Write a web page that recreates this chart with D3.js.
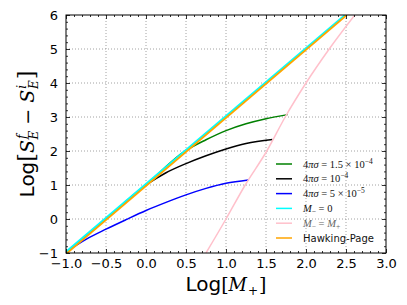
<!DOCTYPE html>
<html>
<head>
<meta charset="utf-8">
<script src="https://cdn.jsdelivr.net/npm/d3@7"></script>
<style>
  body { margin: 0; background: #fff; }
  svg { display: block; }
  .tick text { font-family: "DejaVu Sans", sans-serif; font-size: 13px; fill: #000; }
</style>
</head>
<body>
<div id="chart"></div>
<script>
// values (x = Log[M+], y = Log[S_E^f - S_E^i])
let sigma15X = [-1.0, -0.5, 0.0, 0.49, 0.75, 1.0, 1.25, 1.5, 1.77];
let sigma15Y = [-1.0, 0.0, 1.0, 2.0, 2.33, 2.6, 2.8, 2.95, 3.07];

let sigma10X = [-1.0, -0.5, 0.0, 0.25, 0.5, 0.75, 1.0, 1.25, 1.58];
let sigma10Y = [-1.0, 0.0, 1.0, 1.36, 1.63, 1.86, 2.06, 2.22, 2.34];

let sigma5X = [-1.0, -0.75, -0.5, -0.25, 0.0, 0.25, 0.5, 0.75, 1.0, 1.28];
let sigma5Y = [-0.97, -0.6, -0.3, -0.02, 0.25, 0.49, 0.71, 0.9, 1.05, 1.15];

let mZeroX = [-1.0, 2.49];
let mZeroY = [-0.97, 6.0];

let mEqualX = [0.75, 1.0, 1.24, 1.51, 1.74, 2.0, 2.29, 2.61];
let mEqualY = [-1.0, 0.0, 1.0, 2.0, 3.0, 4.0, 5.0, 6.0];

let hawkingX = [-1.0, 2.51];
let hawkingY = [-1.03, 6.0];

let xTicks = [-1.0, -0.5, 0.0, 0.5, 1.0, 1.5, 2.0, 2.5, 3.0];
let yTicks = [-1, 0, 1, 2, 3, 4, 5, 6];

let svgWidth = 407;
let svgHeight = 305;
let margin = { top: 15, right: 21, bottom: 52, left: 66 };
let chartWidth = svgWidth - margin.left - margin.right;
let chartHeight = svgHeight - margin.top - margin.bottom;

let svg = d3.select("#chart").append("svg")
  .attr("width", svgWidth)
  .attr("height", svgHeight);

let chartGroup = svg.append("g")
  .attr("transform", `translate(${margin.left}, ${margin.top})`);

let x = d3.scaleLinear().domain([-1, 3]).range([0, chartWidth]);
let y = d3.scaleLinear().domain([-1, 6]).range([chartHeight, 0]);

// grid
chartGroup.append("g").selectAll("line").data(xTicks.slice(1, -1)).enter().append("line")
  .attr("x1", d => x(d)).attr("x2", d => x(d))
  .attr("y1", 0).attr("y2", chartHeight)
  .attr("stroke", "#8a8a8a").attr("stroke-width", 0.8).attr("stroke-dasharray", "1,2");
chartGroup.append("g").selectAll("line").data(yTicks.slice(1, -1)).enter().append("line")
  .attr("y1", d => y(d)).attr("y2", d => y(d))
  .attr("x1", 0).attr("x2", chartWidth)
  .attr("stroke", "#8a8a8a").attr("stroke-width", 0.8).attr("stroke-dasharray", "1,2");

// curves
chartGroup.append("clipPath").attr("id", "clip")
  .append("rect").attr("width", chartWidth).attr("height", chartHeight);

let series = [
  { xs: sigma15X, ys: sigma15Y, color: "#008000", w: 1.5 },
  { xs: sigma10X, ys: sigma10Y, color: "#000000", w: 1.5 },
  { xs: sigma5X, ys: sigma5Y, color: "#0000ff", w: 1.5 },
  { xs: mZeroX, ys: mZeroY, color: "#00ffff", w: 2.2 },
  { xs: mEqualX, ys: mEqualY, color: "#ffc0cb", w: 1.5 },
  { xs: hawkingX, ys: hawkingY, color: "#ffa500", w: 1.8 }
];

let line = d3.line()
  .x(d => x(d[0]))
  .y(d => y(d[1]))
  .curve(d3.curveMonotoneX);

let lineGroup = chartGroup.append("g").attr("clip-path", "url(#clip)");
series.forEach(function(s) {
  lineGroup.append("path")
    .datum(s.xs.map((v, i) => [v, s.ys[i]]))
    .attr("d", line)
    .attr("fill", "none")
    .attr("stroke", s.color)
    .attr("stroke-width", s.w);
});

// axes, ticks pointing inward
let xMinor = d3.range(-10, 31).map(d => d / 10).filter(d => Math.abs(d * 2 - Math.round(d * 2)) > 1e-6);
let yMinor = d3.range(-5, 31).map(d => d / 5).filter(d => Math.abs(d - Math.round(d)) > 1e-6);

function styleAxis(g) {
  g.select(".domain").remove();
  g.selectAll(".tick line").attr("stroke", "#000").attr("stroke-width", 0.8);
}

chartGroup.append("g")
  .attr("transform", `translate(0, ${chartHeight})`)
  .call(d3.axisBottom(x).tickValues(xTicks).tickFormat(d3.format(".1f")).tickSize(-4).tickPadding(6))
  .call(styleAxis);
chartGroup.append("g")
  .attr("transform", `translate(0, ${chartHeight})`)
  .call(d3.axisBottom(x).tickValues(xMinor).tickFormat("").tickSize(-2))
  .call(styleAxis);
chartGroup.append("g")
  .call(d3.axisTop(x).tickValues(xTicks).tickFormat("").tickSize(-4))
  .call(styleAxis);
chartGroup.append("g")
  .call(d3.axisTop(x).tickValues(xMinor).tickFormat("").tickSize(-2))
  .call(styleAxis);

chartGroup.append("g")
  .call(d3.axisLeft(y).tickValues(yTicks).tickFormat(d3.format("d")).tickSize(-4).tickPadding(8))
  .call(styleAxis);
chartGroup.append("g")
  .call(d3.axisLeft(y).tickValues(yMinor).tickFormat("").tickSize(-2))
  .call(styleAxis);
chartGroup.append("g")
  .attr("transform", `translate(${chartWidth}, 0)`)
  .call(d3.axisRight(y).tickValues(yTicks).tickFormat("").tickSize(-4))
  .call(styleAxis);
chartGroup.append("g")
  .attr("transform", `translate(${chartWidth}, 0)`)
  .call(d3.axisRight(y).tickValues(yMinor).tickFormat("").tickSize(-2))
  .call(styleAxis);

chartGroup.append("rect")
  .attr("width", chartWidth).attr("height", chartHeight)
  .attr("fill", "none").attr("stroke", "#000").attr("stroke-width", 1);

// math text helper: parts = [text, style, dx, dy, size]
let serif = "'DejaVu Serif', 'Liberation Serif', serif";
let legendSerif = "'Liberation Serif', 'DejaVu Serif', serif";
function mathText(sel, parts, family) {
  let fam = family || serif;
  parts.forEach(function(p) {
    let t = sel.append("tspan").text(p[0]);
    if (p[1] === "i") t.attr("font-family", fam).attr("font-style", "italic");
    if (p[1] === "r") t.attr("font-family", fam);
    if (p[1] === "s") t.attr("font-family", "'DejaVu Sans', sans-serif");
    if (p[2]) t.attr("dx", p[2]);
    if (p[3]) t.attr("dy", p[3]);
    if (p[4]) t.attr("font-size", p[4]);
  });
}

// x label
let xLabel = svg.append("text")
  .attr("x", margin.left + chartWidth / 2)
  .attr("y", 291)
  .attr("text-anchor", "middle")
  .attr("font-size", 20)
  .attr("font-family", "'DejaVu Sans', sans-serif");
mathText(xLabel, [
  ["Log", "s"], ["[", "r", 0, 0, 19], ["M", "i", 0, 0, 18], ["+", "r", 1, 4, 12], ["]", "r", 1, -4, 19]
]);

// y label
let yLabel = svg.append("text")
  .attr("transform", `translate(34, ${margin.top + chartHeight / 2}) rotate(-90)`)
  .attr("text-anchor", "middle")
  .attr("font-size", 20)
  .attr("font-family", "'DejaVu Sans', sans-serif");
mathText(yLabel, [
  ["Log", "s"], ["[", "r", 0, 0, 22], ["S", "i", 0, 0, 19],
  ["f", "i", 1, -8, 12], ["E", "i", -5, 12, 12],
  [" \u2212 ", "r", 0, -4, 19], ["S", "i", 0, 0, 19],
  ["i", "i", 1, -8, 12], ["E", "i", -4, 12, 12], ["]", "r", 1, -4, 22]
]);

// legend
let legendLabels = [
  [["4", "r"], ["\u03c0\u03c3", "i"], [" = 1.5 \u00d7 10", "r"], ["\u22124", "r", 0, -4, 7.5]],
  [["4", "r"], ["\u03c0\u03c3", "i"], [" = 10", "r"], ["\u22124", "r", 0, -4, 7.5]],
  [["4", "r"], ["\u03c0\u03c3", "i"], [" = 5 \u00d7 10", "r"], ["\u22125", "r", 0, -4, 7.5]],
  [["M", "i"], ["\u2212", "r", 0, 2, 7.5], [" = 0", "r", 0, -2]],
  [["M", "i"], ["\u2212", "r", 0, 2, 7.5], [" = ", "r", 0, -2], ["M", "i"], ["+", "r", 0, 2, 7.5]],
  [["Hawking-Page", "s"]]
];

let legend = svg.append("g");
series.forEach(function(s, i) {
  let ly = 164 + i * 14.8;
  legend.append("line")
    .attr("x1", 276).attr("x2", 292)
    .attr("y1", ly).attr("y2", ly)
    .attr("stroke", s.color).attr("stroke-width", 1.5);
  let t = legend.append("text")
    .attr("x", 303).attr("y", ly + 3.5)
    .attr("font-size", i === 5 ? 10 : 10.5)
    .attr("fill", i === 4 ? "#666" : "#111");
  mathText(t, legendLabels[i], legendSerif);
});
</script>
</body>
</html>
